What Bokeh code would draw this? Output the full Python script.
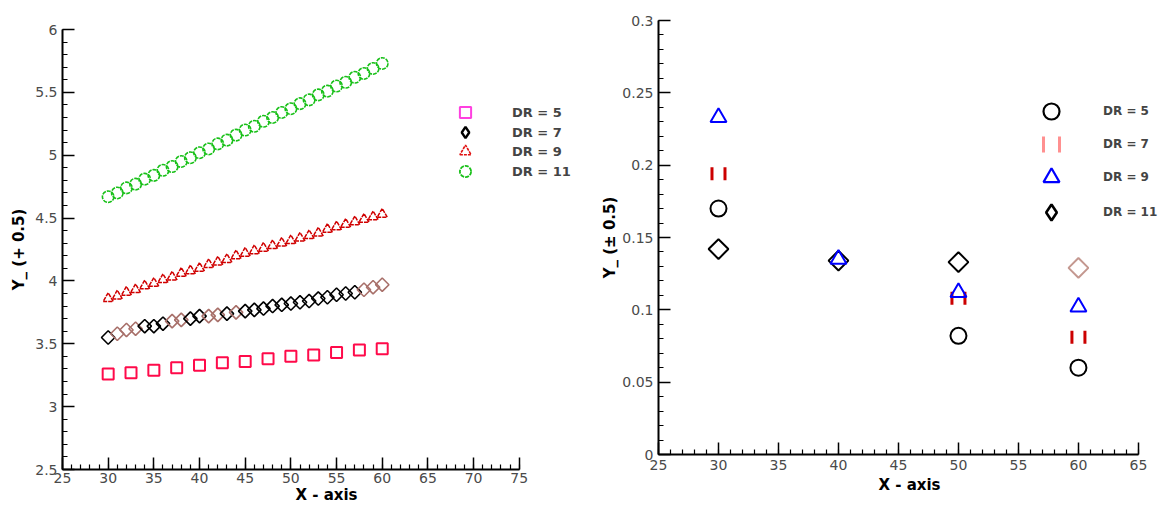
import numpy as np
from bokeh.plotting import figure
from bokeh.models import FixedTicker, Legend, LegendItem, Range1d, Spacer
from bokeh.layouts import row, column
from bokeh.embed import file_html
from bokeh.resources import INLINE

# ---------------- left panel data ----------------
x_dr5 = [30, 32.5, 35, 37.5, 40, 42.5, 45, 47.5, 50, 52.5, 55, 57.5, 60]
y_dr5 = [3.26, 3.27, 3.29, 3.31, 3.33, 3.35, 3.36, 3.38, 3.40, 3.41, 3.43, 3.45, 3.46]

x_dense = [30, 31, 32, 33, 34, 35, 36, 37, 38, 39, 40, 41, 42, 43, 44, 45,
           46, 47, 48, 49, 50, 51, 52, 53, 54, 55, 56, 57, 58, 59, 60]
y_dr7 = [3.55, 3.58, 3.61, 3.62, 3.64, 3.64, 3.66, 3.68, 3.69, 3.70, 3.72,
         3.72, 3.73, 3.74, 3.75, 3.76, 3.77, 3.78, 3.80, 3.81, 3.82, 3.83,
         3.84, 3.86, 3.87, 3.89, 3.90, 3.91, 3.93, 3.95, 3.97]
y_dr9 = [3.86, 3.88, 3.91, 3.93, 3.96, 3.98, 4.01, 4.03, 4.06, 4.08, 4.10,
         4.13, 4.15, 4.17, 4.20, 4.22, 4.24, 4.26, 4.28, 4.30, 4.32, 4.34,
         4.36, 4.38, 4.41, 4.43, 4.45, 4.47, 4.49, 4.51, 4.53]
y_dr11 = [4.67, 4.70, 4.74, 4.77, 4.81, 4.84, 4.88, 4.91, 4.95, 4.98, 5.02,
          5.05, 5.09, 5.12, 5.16, 5.20, 5.23, 5.27, 5.30, 5.34, 5.37, 5.41,
          5.44, 5.48, 5.51, 5.55, 5.58, 5.62, 5.65, 5.69, 5.73]

left_xticks = [25, 30, 35, 40, 45, 50, 55, 60, 65, 70, 75]
left_yticks = [2.5, 3, 3.5, 4, 4.5, 5, 5.5, 6]
left_ytick_labels = ["2.5", "3", "3.5", "4", "4.5", "5", "5.5", "6"]
left_labels = ["DR = 5", "DR = 7", "DR = 9", "DR = 11"]

# ---------------- right panel data ----------------
nan = float("nan")
x_r = [30, 40, 50, 60]
r_dr5 = [0.170, nan, 0.082, 0.060]
r_dr7 = [0.194, nan, 0.108, 0.081]
r_dr9 = [0.233, 0.135, 0.112, 0.102]
r_dr11 = [0.142, 0.134, 0.133, 0.129]

right_xticks = [25, 30, 35, 40, 45, 50, 55, 60, 65]
right_yticks = [0, 0.05, 0.1, 0.15, 0.2, 0.25, 0.3]
right_ytick_labels = ["0", "0.05", "0.1", "0.15", "0.2", "0.25", "0.3"]
right_labels = ["DR = 5", "DR = 7", "DR = 9", "DR = 11"]

FONT = "DejaVu Sans"
legend_anchor = [nan]   # legend-only renderers carry no visible point


def style_axes(p, xticks, xminor, yticks, yminor, ylabels, xbounds, ylabel,
               x_std, x_lab_std, y_lab_std):
    for ax in (p.xaxis[0], p.yaxis[0]):
        ax.axis_line_width = 2
        ax.axis_line_color = "black"
        ax.major_tick_in = 12
        ax.major_tick_out = 0
        ax.minor_tick_in = 5
        ax.minor_tick_out = 0
        ax.major_tick_line_width = 1.5
        ax.minor_tick_line_width = 1.2
        ax.major_tick_line_color = "black"
        ax.minor_tick_line_color = "black"
        ax.major_label_text_font = FONT
        ax.major_label_text_font_size = "14px"
        ax.major_label_text_color = "#4a4a4a"
        ax.axis_label_text_font = FONT
        ax.axis_label_text_font_style = "bold"
        ax.axis_label_text_font_size = "15px"
        ax.axis_label_text_color = "black"
    p.xaxis[0].ticker = FixedTicker(ticks=xticks, minor_ticks=xminor)
    p.xaxis[0].bounds = xbounds
    p.xaxis[0].axis_label = "X - axis"
    p.xaxis[0].major_label_standoff = x_std
    p.xaxis[0].axis_label_standoff = x_lab_std
    p.yaxis[0].ticker = FixedTicker(ticks=yticks, minor_ticks=yminor)
    p.yaxis[0].major_label_overrides = {t: l for t, l in zip(yticks, ylabels)}
    p.yaxis[0].major_label_standoff = 5
    p.yaxis[0].axis_label_standoff = y_lab_std
    p.yaxis[0].axis_label = ylabel
    p.yaxis[0].major_label_orientation = "horizontal"
    p.grid.visible = False
    p.outline_line_color = None
    p.background_fill_color = "white"
    p.border_fill_color = "white"


def add_legend_item(p, label, renderer, vx, vy, glyph, standoff, fsize):
    lg = Legend(items=[LegendItem(label=label, renderers=[renderer])],
                location=(vx, vy), orientation="vertical",
                padding=0, margin=0, spacing=0, glyph_width=glyph, glyph_height=glyph,
                label_height=glyph, label_standoff=standoff,
                label_text_font=FONT, label_text_font_style="bold",
                label_text_font_size=fsize, border_line_color=None,
                background_fill_alpha=0)
    p.add_layout(lg)


# ---------------- left figure ----------------
p1 = figure(width=598, height=498, x_range=Range1d(25, 82.8), y_range=Range1d(2.5, 6),
            output_backend="svg", toolbar_location=None,
            min_border_left=62, min_border_right=8, min_border_top=20, min_border_bottom=38)
style_axes(p1, left_xticks, list(np.arange(25, 76, 1.0)), left_yticks,
           list(np.round(np.arange(2.5, 6.01, 0.1), 2)), left_ytick_labels, (25, 75),
           "Y_ (+ 0.5)", 3, 0, 4)

dr7_colors = ["black", "#a8706a", "#a8706a", "#a8706a", "black", "black", "black",
              "#a8706a", "#a8706a", "black", "black", "#a8706a", "#a8706a", "black",
              "#a8706a", "black", "black", "black", "black", "black", "black", "black",
              "black", "black", "black", "black", "black", "black", "#a8706a", "#a8706a",
              "#a8706a"]

l5 = p1.scatter(x_dr5, y_dr5, marker="square", size=11, line_color="#ff0a4a",
                fill_color=None, line_width=2)
l7 = p1.scatter(x_dense, y_dr7, marker="square", angle=np.pi / 4, size=9.5,
                line_color=dr7_colors, fill_color=None, line_width=1.6)
l9 = p1.scatter(x_dense, y_dr9, marker="triangle", size=10, line_color="#d00000",
                fill_color=None, line_width=1.5, line_dash="4 1")
l11 = p1.scatter(x_dense, y_dr11, marker="circle", size=11.5, line_color="#18c018",
                 fill_color=None, line_width=1.6, line_dash="4 1")

lg5 = p1.scatter(legend_anchor, legend_anchor, marker="square", line_color="#ff40e0",
                 fill_color=None, line_width=2)
lg7 = p1.scatter(legend_anchor, legend_anchor, marker="diamond", line_color="black",
                 fill_color=None, line_width=2.4)
lg9 = p1.scatter(legend_anchor, legend_anchor, marker="triangle", line_color="#e01010",
                 fill_color=None, line_width=1.6, line_dash="3 1")
lg11 = p1.scatter(legend_anchor, legend_anchor, marker="circle", line_color="#18c018",
                  fill_color=None, line_width=1.8, line_dash="4 1")

for lab, rend, vy in zip(left_labels, [lg5, lg7, lg9, lg11], [343, 323, 304, 284]):
    add_legend_item(p1, lab, rend, 389, vy, 28, 33, "13px")

# ---------------- right figure ----------------
p2 = figure(width=568, height=496, x_range=Range1d(25, 66.84), y_range=Range1d(0, 0.3),
            output_backend="svg", toolbar_location=None,
            min_border_left=57, min_border_right=6, min_border_top=20, min_border_bottom=41)
style_axes(p2, right_xticks, list(np.arange(25, 66, 1.0)), right_yticks,
           list(np.round(np.arange(0, 0.301, 0.01), 3)), right_ytick_labels, (25, 65),
           "Y_ (± 0.5)", 5, 3, 0)

dr11_colors = ["black", "black", "black", "#c49890"]

c5 = p2.scatter(x_r, r_dr5, marker="circle", size=16, line_color="black",
                fill_color=None, line_width=2)
c7 = p2.scatter(x_r, r_dr7, marker="square", size=13, line_color="#cc0000",
                fill_color=None, line_width=3, line_dash="13 13", line_dash_offset=13)
c11 = p2.scatter(x_r, r_dr11, marker="square", angle=np.pi / 4, size=14,
                 line_color=dr11_colors, fill_color=None, line_width=2)
c9 = p2.scatter(x_r, r_dr9, marker="triangle", size=16, line_color="#0000ff",
                fill_color=None, line_width=2)

cg5 = p2.scatter(legend_anchor, legend_anchor, marker="circle", line_color="black",
                 fill_color=None, line_width=2.2)
cg7 = p2.scatter(legend_anchor, legend_anchor, marker="square", line_color="#ff9090",
                 fill_color=None, line_width=3, line_dash="16 16", line_dash_offset=16)
cg9 = p2.scatter(legend_anchor, legend_anchor, marker="triangle", line_color="#0000ff",
                 fill_color=None, line_width=2.2)
cg11 = p2.scatter(legend_anchor, legend_anchor, marker="diamond", line_color="black",
                  fill_color=None, line_width=2.6)

for lab, rend, vy in zip(right_labels, [cg5, cg7, cg9, cg11], [323, 290, 257, 222]):
    add_legend_item(p2, lab, rend, 373, vy, 40, 32, "12px")

layout = row(column(Spacer(width=598, height=9), p1), p2)
open("out.html", "w").write(file_html(layout, INLINE))
